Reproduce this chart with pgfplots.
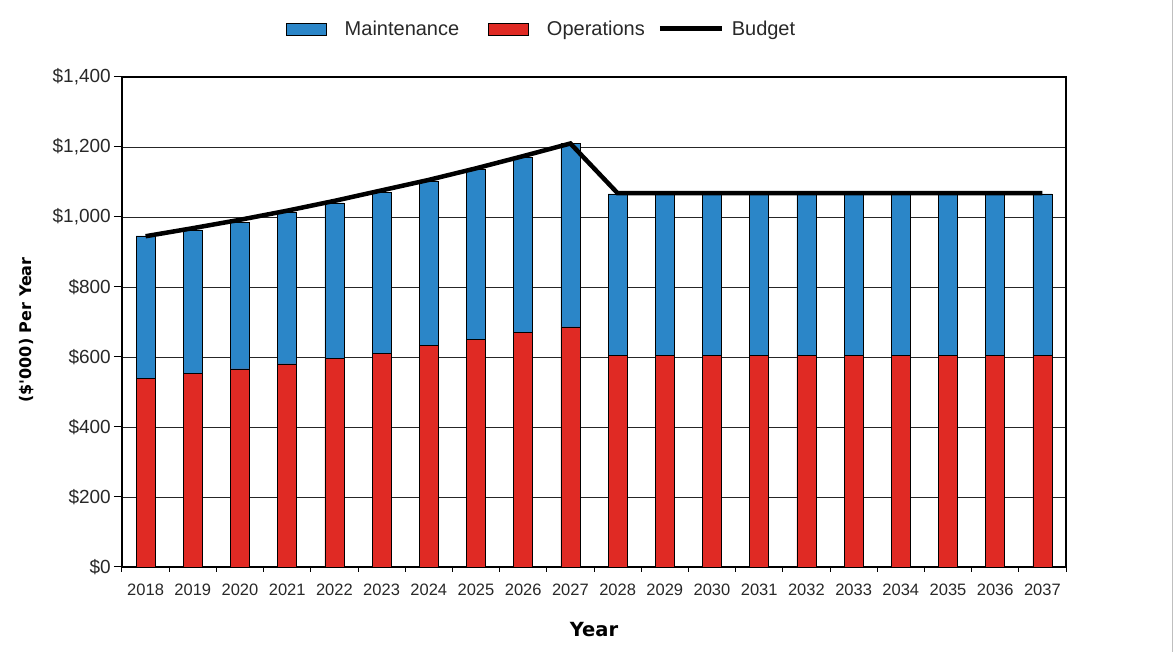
\documentclass[border=0pt]{standalone}
\usepackage{fontspec}
\setmainfont{Liberation Sans}
\newfontfamily\labelfont{DejaVu Sans}
\usepackage{pgfplots}
\pgfplotsset{compat=1.18}
\definecolor{maint}{RGB}{43,134,200}
\definecolor{ops}{RGB}{224,42,36}
\definecolor{tickgray}{RGB}{40,40,40}
\begin{document}
\begin{tikzpicture}[x=1pt,y=1pt]
\useasboundingbox (-122,-85) rectangle (1053,567);
\draw[black!25, line width=1pt] (1050,-85) -- (1050,567);
\begin{axis}[
  at={(0pt,0pt)}, anchor=south west, scale only axis,
  width=944pt, height=490pt,
  xmin=-0.5, xmax=19.5, ymin=0, ymax=1400,
  ybar stacked, bar width=19pt,
  axis line style={black, line width=1.1pt},
  tick align=outside, xtick pos=bottom, ytick pos=left,
  xtick={0,1,2,3,4,5,6,7,8,9,10,11,12,13,14,15,16,17,18,19},
  xticklabels={2018,2019,2020,2021,2022,2023,2024,2025,2026,2027,2028,2029,2030,2031,2032,2033,2034,2035,2036,2037},
  major x tick style={draw=none},
  minor xtick={-0.5,0.5,...,19.5},
  minor x tick style={black, line width=1pt},
  minor tick length=5pt,
  ytick={0,200,400,600,800,1000,1200,1400},
  yticklabels={\$0,\$200,\$400,\$600,\$800,{\$1,000},{\$1,200},{\$1,400}},
  major y tick style={black, line width=1pt},
  major tick length=8pt,
  ymajorgrids, grid style={black!85, line width=0.9pt},
  xticklabel style={font=\fontsize{16.5}{18}\selectfont, text=tickgray, anchor=north, inner sep=0pt, yshift=-9pt},
  yticklabel style={font=\fontsize{19}{21}\selectfont, text=tickgray, anchor=east, inner sep=0pt, xshift=-3pt},
  xlabel={\labelfont\bfseries Year},
  xlabel style={font=\fontsize{19.5}{21}\selectfont, at={(axis description cs:0.5,-0.1286)}, anchor=center},
  ylabel={\labelfont\bfseries (\$\textquotesingle 000) Per Year},
  ylabel style={font=\fontsize{16}{18}\selectfont, at={(axis description cs:-0.1006,0.4837)}, anchor=center, rotate=0},
  legend columns=3,
  legend style={draw=none, fill=none, at={(axis description cs:0.4445,1.098)}, anchor=center,
    font=\fontsize{20}{22}\selectfont, text=tickgray,
    /tikz/every odd column/.append style={column sep=16pt},
    /tikz/every even column/.append style={column sep=27pt}},
]
\addplot[fill=ops, draw=black, line width=0.7pt, forget plot] coordinates {
(0,539) (1,552) (2,566) (3,580) (4,596) (5,611) (6,632) (7,650) (8,669) (9,686)
(10,605) (11,605) (12,605) (13,605) (14,605) (15,605) (16,605) (17,605) (18,605) (19,605)};
\addplot[fill=maint, draw=black, line width=0.7pt, forget plot] coordinates {
(0,407) (1,411) (2,419) (3,432) (4,444) (5,460) (6,471) (7,486) (8,501) (9,524)
(10,461) (11,461) (12,461) (13,461) (14,461) (15,461) (16,461) (17,461) (18,461) (19,461)};
\addlegendimage{legend image code/.code={\draw[fill=maint,draw=black,line width=0.7pt] (0pt,-6pt) rectangle (40pt,6pt);}}
\addlegendentry{Maintenance}
\addlegendimage{legend image code/.code={\draw[fill=ops,draw=black,line width=0.7pt] (0pt,-6pt) rectangle (40pt,6pt);}}
\addlegendentry{Operations}
\addlegendimage{legend image code/.code={\path[draw=none,fill=none] (0pt,-6pt) rectangle (40pt,6pt); \draw[overlay,draw=black,fill=none,line width=5pt] (-14pt,0pt) -- (48pt,0pt);}}
\addlegendentry{Budget}
\end{axis}
\begin{axis}[
  at={(0pt,0pt)}, anchor=south west, scale only axis,
  width=944pt, height=490pt,
  xmin=-0.5, xmax=19.5, ymin=0, ymax=1400,
  hide axis, clip=false,
]
\addplot[black, line width=4.5pt, mark=none, line join=miter] coordinates {
(0,945) (1,968) (2,992) (3,1018) (4,1046) (5,1076) (6,1106) (7,1139) (8,1174) (9,1210)
(10,1068) (11,1068) (12,1068) (13,1068) (14,1068) (15,1068) (16,1068) (17,1068) (18,1068) (19,1068)};
\end{axis}
\end{tikzpicture}
\end{document}
